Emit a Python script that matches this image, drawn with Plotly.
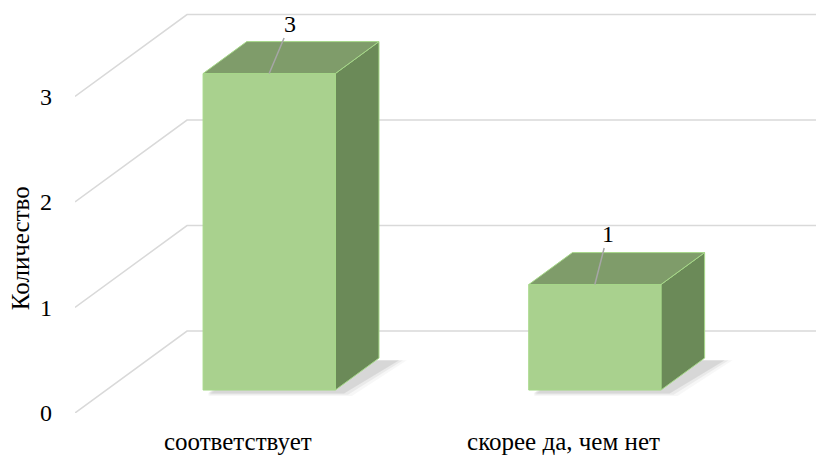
import plotly.graph_objects as go

# data
categories = ["соответствует", "скорее да, чем нет"]
values = [3, 1]
y_ticks = [0, 1, 2, 3]
axis_title = "Количество"

# oblique "3D" projection settings (x in category units, y in value units)
DX = 0.344        # x shift for the full floor depth
DY = 0.777        # y shift for the full floor depth
D_FRONT = 0.28    # bar front face depth
D_BACK = 0.67     # bar back face depth
HALF_W = 0.203    # half bar width

FRONT = "#a9d18e"
TOP = "#7f9c6a"
SIDE = "#6b8a58"
EDGE = "#a6d889"
GRID = "#d9d9d9"
FONT = "'Times New Roman', 'Liberation Serif', 'DejaVu Serif', serif"


def proj(x, v, d):
    return x + d * DX, v + d * DY


def poly(points, fill, line_color, width=1.0):
    xs = [p[0] for p in points] + [points[0][0]]
    ys = [p[1] for p in points] + [points[0][1]]
    return go.Scatter(
        x=xs, y=ys, mode="lines", fill="toself", fillcolor=fill,
        line=dict(color=line_color, width=width),
        hoverinfo="skip", showlegend=False,
    )


fig = go.Figure()

# back wall gridlines with diagonals on the side wall
x_left = -0.5
x_right = len(categories) - 0.5
for t in y_ticks:
    x0, y0 = proj(x_left, t, 0)
    x1, y1 = proj(x_left, t, 1)
    x2, y2 = proj(x_right, t, 1)
    fig.add_trace(go.Scatter(
        x=[x0, x1, x2], y=[y0, y1, y2], mode="lines",
        line=dict(color=GRID, width=1.5), hoverinfo="skip", showlegend=False,
    ))

# soft floor shadows
for i, v in enumerate(values):
    for k, a in enumerate([0.03, 0.05, 0.08]):
        grow = 0.012 * (3 - k)
        sx, sy = 0.015, -0.02
        pts = [
            proj(i - HALF_W + sx, sy - grow, D_FRONT),
            proj(i + HALF_W + sx + grow, sy - grow, D_FRONT),
            proj(i + HALF_W + sx + grow + 0.035, sy, D_BACK),
            proj(i - HALF_W + sx, sy, D_BACK),
        ]
        fig.add_trace(poly(pts, f"rgba(0,0,0,{a})", "rgba(0,0,0,0)", 0))

# bars
for i, v in enumerate(values):
    l, r = i - HALF_W, i + HALF_W
    side = [proj(r, 0, D_FRONT), proj(r, 0, D_BACK), proj(r, v, D_BACK), proj(r, v, D_FRONT)]
    top = [proj(l, v, D_FRONT), proj(r, v, D_FRONT), proj(r, v, D_BACK), proj(l, v, D_BACK)]
    front = [proj(l, 0, D_FRONT), proj(r, 0, D_FRONT), proj(r, v, D_FRONT), proj(l, v, D_FRONT)]
    fig.add_trace(poly(side, SIDE, EDGE))
    fig.add_trace(poly(top, TOP, EDGE))
    fig.add_trace(poly(front, FRONT, EDGE))

# data labels with leader lines
label_offsets = [(21, -50), (13, -51)]
for i, v in enumerate(values):
    ax_, ay_ = label_offsets[i]
    px, py = proj(i, v, D_FRONT)
    fig.add_annotation(
        x=px, y=py, text=str(v), showarrow=True, arrowhead=0,
        arrowcolor="#a6a6a6", arrowwidth=1.5, ax=ax_, ay=ay_, standoff=0,
        font=dict(family=FONT, size=24, color="#000000"),
    )

fig.add_annotation(
    xref="paper", yref="paper", x=-0.0734, y=0.407, text=axis_title,
    xanchor="center", yanchor="middle", textangle=-90, showarrow=False,
    font=dict(family=FONT, size=25, color="#000000"),
)

# the page puts the figure 8px in from the top-left corner
fig.update_layout(
    width=816, height=447,
    margin=dict(l=67, r=0, t=0, b=42),
    paper_bgcolor="#ffffff", plot_bgcolor="#ffffff",
    font=dict(family=FONT, size=24, color="#000000"),
    showlegend=False,
    xaxis=dict(
        range=[-0.5, 1.8], tickvals=list(range(len(categories))), ticktext=categories,
        showgrid=False, zeroline=False, showline=False, ticks="",
        tickfont=dict(size=25), ticklabelstandoff=11, fixedrange=True,
    ),
    yaxis=dict(
        range=[0, 3.839], tickvals=y_ticks, showgrid=False, zeroline=False,
        showline=False, ticks="", ticklabelstandoff=22, fixedrange=True,
    ),
)

fig.write_html("out.html")
